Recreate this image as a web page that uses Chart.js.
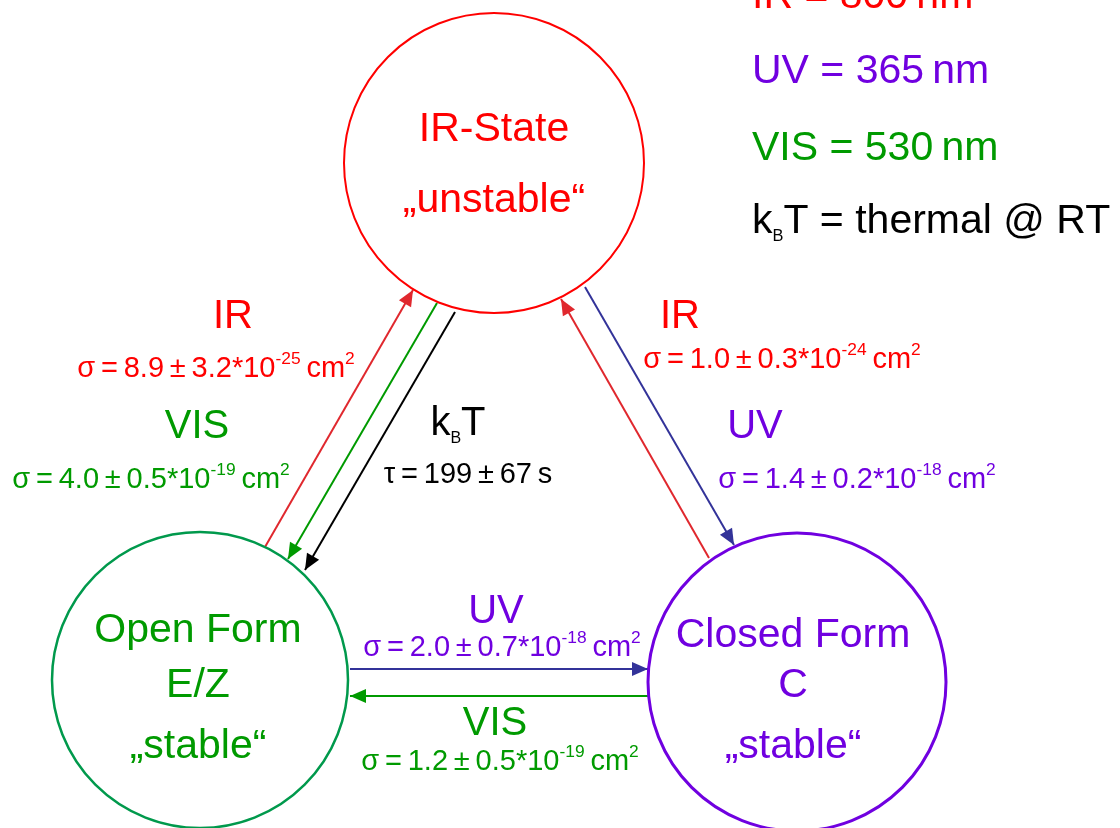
<!DOCTYPE html>
<html>
<head>
<meta charset="utf-8">
<script src="https://cdn.jsdelivr.net/npm/chart.js@4/dist/chart.umd.min.js"></script>
<style>
  html, body { margin: 0; padding: 0; background: #fff; }
  canvas { display: block; }
</style>
</head>
<body>
<canvas id="diagram" width="1120" height="828"></canvas>
<script>
// --- data -------------------------------------------------------------
const wavelengthNames = ['IR', 'UV', 'VIS'];
const wavelengthValues = [800, 365, 530];

const stateLines = [
    ['IR-State', '\u201Eunstable\u201C'],
    ['Open Form', 'E/Z', '\u201Estable\u201C'],
    ['Closed Form', 'C', '\u201Estable\u201C']
];
// state centres / radii in drawing units (1 unit = 1 px)
const stateX = [494, 200, 797];
const stateY = [163, 680, 682];
const stateR = [150, 148, 149];

// transitions
const transLight = ['IR', 'VIS', 'kBT', 'IR', 'UV', 'UV', 'VIS'];
const transValue = ['8.9\u2009\u00B1\u20093.2*10^{-25}', '4.0\u2009\u00B1\u20090.5*10^{-19}', '199\u2009\u00B1\u200967',
    '1.0\u2009\u00B1\u20090.3*10^{-24}', '1.4\u2009\u00B1\u20090.2*10^{-18}', '2.0\u2009\u00B1\u20090.7*10^{-18}',
    '1.2\u2009\u00B1\u20090.5*10^{-19}'];

// --- layout / styles ----------------------------------------------------
const FONT = '"Liberation Sans", Arial, sans-serif';
const colors = { IR: '#ff0000', UV: '#7000e0', VIS: '#009a00', kBT: '#000000' };
const arrowColors = { IR: '#e0282e', UV: '#333399', VIS: '#009a00', kBT: '#000000' };
const stateStroke = ['#ff0000', '#00994c', '#7000e0'];
const stateText = ['#ff0000', '#009a00', '#7000e0'];
const stateStrokeW = [2, 2.5, 3];
const stateTextX = [494, 198, 793];
const stateTextY = [[141, 212], [642, 697, 758], [647, 697, 758]];

// arrow end points (on the circles)
const arrowPts = [
    [265, 547, 413, 290],
    [437, 303, 288, 559],
    [455, 312, 305, 570],
    [709, 558, 561, 299],
    [585, 287, 734, 545],
    [350, 669, 648, 669],
    [648, 696, 350, 696]
];
const headPos = [[233, 328], [197, 438], [458, 435], [680, 328], [755, 438], [496, 623], [495, 735]];
const sigmaPos = [[216, 377], [151, 488], [468, 483], [782, 368], [857, 488], [502, 656], [500, 770]];
const legendX = 752;
const legendY = [8, 83, 160, 233];

// --- rich text helper (^{} superscript, _{} subscript) ----------------------
function parseRich(str) {
    const parts = [];
    const re = /([\^_])\{([^}]*)\}/g;
    let last = 0, m;
    while ((m = re.exec(str))) {
        if (m.index > last) parts.push({ t: str.slice(last, m.index), k: 'n' });
        parts.push({ t: m[2], k: m[1] === '^' ? 'sup' : 'sub' });
        last = re.lastIndex;
    }
    if (last < str.length) parts.push({ t: str.slice(last), k: 'n' });
    return parts;
}

function drawRich(ctx, str, x, y, size, color, align) {
    const parts = parseRich(str);
    const fontFor = p => (p.k === 'n' ? size : p.k === 'sup' ? size * 0.6 : size * 0.4) + 'px ' + FONT;
    let total = 0;
    parts.forEach(p => { ctx.font = fontFor(p); p.w = ctx.measureText(p.t).width; total += p.w; });
    let cx = align === 'center' ? x - total / 2 : x;
    ctx.fillStyle = color;
    ctx.textAlign = 'left';
    ctx.textBaseline = 'alphabetic';
    parts.forEach(p => {
        ctx.font = fontFor(p);
        const dy = p.k === 'sup' ? -size * 0.46 : p.k === 'sub' ? size * 0.2 : 0;
        ctx.fillText(p.t, cx, y + dy);
        cx += p.w;
    });
}

// --- datasets -------------------------------------------------------------
const datasets = [];
datasets.push({
    label: 'states',
    data: stateX.map((x, i) => ({ x: x, y: stateY[i] })),
    pointRadius: c => {
        const sx = c.chart.scales.x;
        return Math.abs(sx.getPixelForValue(stateR[c.dataIndex]) - sx.getPixelForValue(0));
    },
    pointBackgroundColor: 'rgba(0,0,0,0)',
    pointBorderColor: stateStroke,
    pointBorderWidth: stateStrokeW,
    showLine: false
});
arrowPts.forEach((a, i) => {
    datasets.push({
        label: transLight[i],
        data: [{ x: a[0], y: a[1] }, { x: a[2], y: a[3] }],
        showLine: true,
        borderColor: arrowColors[transLight[i]],
        borderWidth: 2,
        pointRadius: 0
    });
});

// arrowheads + all text
const annotate = {
    id: 'annotate',
    afterDatasetsDraw(chart) {
        const ctx = chart.ctx;
        const sx = chart.scales.x, sy = chart.scales.y;
        const px = v => sx.getPixelForValue(v), py = v => sy.getPixelForValue(v);
        ctx.save();

        // arrowheads
        arrowPts.forEach((a, i) => {
            const x0 = px(a[0]), y0 = py(a[1]), x1 = px(a[2]), y1 = py(a[3]);
            const ang = Math.atan2(y1 - y0, x1 - x0);
            const len = 16, hw = 7;
            ctx.fillStyle = arrowColors[transLight[i]];
            ctx.beginPath();
            ctx.moveTo(x1, y1);
            ctx.lineTo(x1 - len * Math.cos(ang) + hw * Math.sin(ang), y1 - len * Math.sin(ang) - hw * Math.cos(ang));
            ctx.lineTo(x1 - len * Math.cos(ang) - hw * Math.sin(ang), y1 - len * Math.sin(ang) + hw * Math.cos(ang));
            ctx.closePath();
            ctx.fill();
        });

        // state texts
        stateLines.forEach((lines, i) => {
            lines.forEach((t, j) => {
                drawRich(ctx, t, px(stateTextX[i]), py(stateTextY[i][j]), 41, stateText[i], 'center');
            });
        });

        // transition labels
        transLight.forEach((l, i) => {
            const head = l === 'kBT' ? 'k_{B}T' : l;
            drawRich(ctx, head, px(headPos[i][0]), py(headPos[i][1]), 40, colors[l], 'center');
            const sig = l === 'kBT'
                ? '\u03C4\u2009=\u2009' + transValue[i] + '\u2009s'
                : '\u03C3\u2009=\u2009' + transValue[i] + '\u2009cm^{2}';
            drawRich(ctx, sig, px(sigmaPos[i][0]), py(sigmaPos[i][1]), 29, colors[l], 'center');
        });

        // wavelength legend
        wavelengthNames.forEach((n, i) => {
            drawRich(ctx, n + ' = ' + wavelengthValues[i] + '\u2009nm', px(legendX), py(legendY[i]), 41, colors[n], 'left');
        });
        drawRich(ctx, 'k_{B}T = thermal @ RT', px(legendX), py(legendY[3]), 41, colors.kBT, 'left');

        ctx.restore();
    }
};

new Chart(document.getElementById('diagram'), {
    type: 'scatter',
    data: { datasets: datasets },
    options: {
        responsive: false,
        animation: false,
        events: [],
        layout: { padding: 0 },
        plugins: { legend: { display: false }, tooltip: { enabled: false } },
        scales: {
            x: { type: 'linear', min: 0, max: 1120, display: false },
            y: { type: 'linear', min: 0, max: 828, reverse: true, display: false }
        }
    },
    plugins: [annotate]
});
</script>
</body>
</html>
